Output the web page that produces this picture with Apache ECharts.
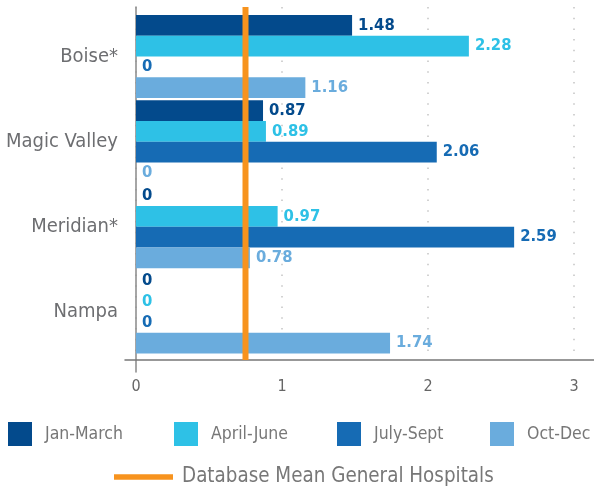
<!DOCTYPE html>
<html>
<head>
<meta charset="utf-8">
<script src="https://cdn.jsdelivr.net/npm/echarts@6/dist/echarts.min.js"></script>
<style>
html,body{margin:0;padding:0;background:#fff;}
#chart{width:594px;height:488px;}
</style>
</head>
<body>
<div id="chart"></div>
<script>
const categories = ['Boise*', 'Magic Valley', 'Meridian*', 'Nampa'];
const seriesNames = ['Jan-March', 'April-June', 'July-Sept', 'Oct-Dec'];
const janMarch = [1.48, 0.87, 0, 0];
const aprilJune = [2.28, 0.89, 0.97, 0];
const julySept = [0, 2.06, 2.59, 0];
const octDec = [1.16, 0, 0.78, 1.74];
const meanName = 'Database Mean General Hospitals';
const meanValue = 0.75;

const colors = ['#034a8c', '#2ec1e6', '#166bb4', '#6aacdd'];
const meanColor = '#f7931e';
const FONT = '"Liberation Sans Narrow", "DejaVu Sans Condensed", "Roboto", sans-serif';

const chart = echarts.init(document.getElementById('chart'), null, {renderer: 'canvas'});

const valueLists = [janMarch, aprilJune, julySept, octDec];
const barSeries = valueLists.map((vals, i) => ({
  name: seriesNames[i],
  type: 'bar',
  xAxisIndex: 1,
  yAxisIndex: 1,
  data: vals,
  barGap: '0%',
  barCategoryGap: '2.5%',
  itemStyle: {color: colors[i]},
  z: 3,
  label: {
    show: true,
    position: 'right',
    distance: 6,
    formatter: p => p.value === 0 ? '0' : p.value.toFixed(2),
    color: colors[i],
    fontFamily: FONT,
    fontWeight: 'bold',
    fontSize: 16.5
  }
}));

const legendPositions = [8, 174, 337, 490];
const legends = seriesNames.map((n, i) => ({
  data: [{name: n, icon: 'rect'}],
  left: legendPositions[i],
  top: 422,
  padding: 0,
  itemWidth: 24,
  itemHeight: 24,
  selectedMode: false,
  textStyle: {fontFamily: FONT, fontSize: 17.5, color: '#777', padding: [0, 0, 0, 8]}
}));
legends.push({
  data: [{name: meanName, icon: 'rect', itemStyle: {color: meanColor}}],
  left: 114,
  top: 467,
  padding: 0,
  itemWidth: 59,
  itemHeight: 5.5,
  selectedMode: false,
  textStyle: {fontFamily: FONT, fontSize: 20.4, color: '#777', padding: [0, 0, 0, 4]}
});

const option = {
  animation: false,
  backgroundColor: '#fff',
  grid: [
    {left: 136, width: 438, top: 7, height: 353, outerBoundsMode: 'none', containLabel: false},
    {left: 136, width: 438, top: 14, height: 340.5, outerBoundsMode: 'none', containLabel: false},
    {left: 125, right: 0, top: 7, height: 353, outerBoundsMode: 'none', containLabel: false},
    {left: 136, width: 438, top: 7, height: 365, outerBoundsMode: 'none', containLabel: false}
  ],
  xAxis: [
    {
      gridIndex: 0, type: 'value', min: 0, max: 3, interval: 1,
      axisLine: {show: false}, axisTick: {show: false},
      axisLabel: {margin: 19, fontFamily: FONT, fontSize: 16, color: '#666'},
      splitLine: {show: true, lineStyle: {color: '#c4c4c4', width: 1.5, type: [1.5, 9.2]}}
    },
    {gridIndex: 1, type: 'value', min: 0, max: 3, show: false},
    {
      gridIndex: 2, type: 'value', min: 0, max: 1,
      axisLine: {show: true, lineStyle: {color: '#777', width: 1.5}},
      axisTick: {show: false}, axisLabel: {show: false}, splitLine: {show: false}
    },
    {gridIndex: 3, type: 'value', min: 0, max: 1, show: false}
  ],
  yAxis: [
    {gridIndex: 0, type: 'value', min: 0, max: 1, show: false},
    {
      gridIndex: 1, type: 'category', data: categories, inverse: true,
      axisLine: {show: false}, axisTick: {show: false},
      axisLabel: {margin: 18, fontFamily: FONT, fontSize: 20, color: '#6d6e71'}
    },
    {gridIndex: 2, type: 'value', min: 0, max: 1, show: false},
    {
      gridIndex: 3, type: 'value', min: 0, max: 1,
      axisLine: {show: true, lineStyle: {color: '#888', width: 1.5}},
      axisTick: {show: false}, axisLabel: {show: false}, splitLine: {show: false}
    }
  ],
  legend: legends,
  series: barSeries.concat([{
    name: meanName,
    type: 'line',
    xAxisIndex: 0,
    yAxisIndex: 0,
    data: [[meanValue, 0], [meanValue, 1]],
    symbol: 'none',
    itemStyle: {color: meanColor},
    lineStyle: {color: meanColor, width: 6},
    z: 10
  }])
};

chart.setOption(option);
</script>
</body>
</html>
